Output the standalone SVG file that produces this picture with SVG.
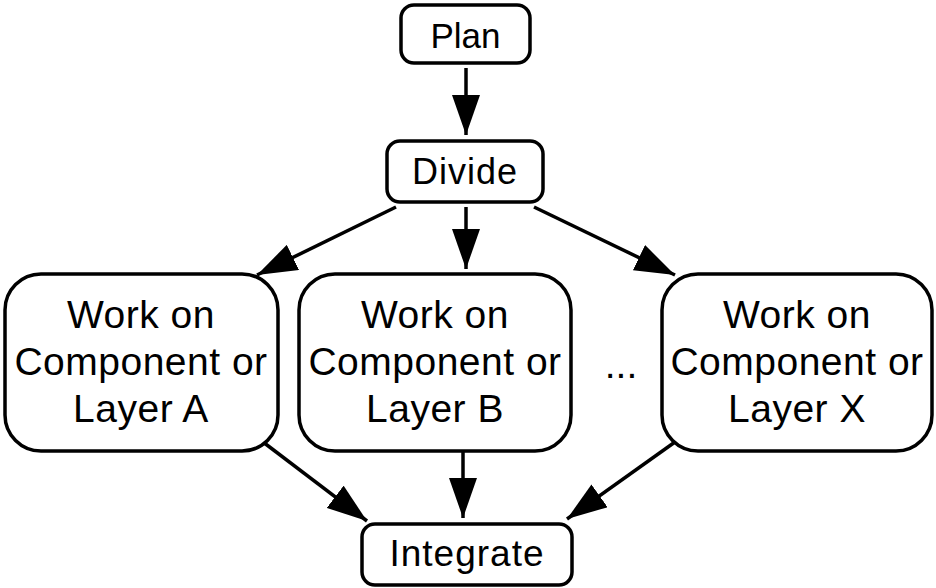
<svg xmlns="http://www.w3.org/2000/svg" width="936" height="588" viewBox="0 0 936 588">
<style>
.box{fill:#fff;stroke:#000;stroke-width:3.5}
.t{font-family:"Liberation Sans",Arial,sans-serif;fill:#000;text-anchor:middle}
.big{font-size:39px;letter-spacing:0.5px}
.edge{stroke:#000;stroke-width:3.5;fill:none;marker-end:url(#ah)}
</style>
<defs>
<marker id="ah" markerUnits="userSpaceOnUse" markerWidth="40" markerHeight="28" refX="40" refY="14" orient="auto">
<path d="M0,0 L40,14 L0,28 z" fill="#000"/>
</marker>
</defs>
<rect width="936" height="588" fill="#fff"/>
<g id="connectors">
<line class="edge" x1="466" y1="68" x2="466" y2="135"/>
<line class="edge" x1="396" y1="207" x2="257" y2="275"/>
<line class="edge" x1="466" y1="207" x2="466" y2="269"/>
<line class="edge" x1="534" y1="207" x2="675" y2="275"/>
<line class="edge" x1="263" y1="442" x2="367" y2="521"/>
<line class="edge" x1="463" y1="452" x2="463" y2="518"/>
<line class="edge" x1="675" y1="442" x2="567" y2="519"/>
</g>
<g id="plan">
<rect class="box" x="401" y="5" width="129" height="58" rx="13"/>
<text class="t" x="465.5" y="48" font-size="35">Plan</text>
</g>
<g id="divide">
<rect class="box" x="387" y="141" width="156" height="61" rx="13"/>
<text class="t" x="465" y="184" font-size="36" letter-spacing="1">Divide</text>
</g>
<g id="workA">
<rect class="box" x="5" y="274" width="273" height="177" rx="36"/>
<text class="t big" x="141" y="328">Work on</text>
<text class="t big" x="141" y="375">Component or</text>
<text class="t big" x="141" y="422">Layer A</text>
</g>
<g id="workB">
<rect class="box" x="299" y="274" width="272" height="177" rx="36"/>
<text class="t big" x="435" y="328">Work on</text>
<text class="t big" x="435" y="375">Component or</text>
<text class="t big" x="435" y="422">Layer B</text>
</g>
<g id="ellipsis">
<text class="t" x="621" y="378" font-size="39">...</text>
</g>
<g id="workX">
<rect class="box" x="662" y="274" width="270" height="177" rx="36"/>
<text class="t big" x="797" y="328">Work on</text>
<text class="t big" x="797" y="375">Component or</text>
<text class="t big" x="797" y="422">Layer X</text>
</g>
<g id="integrate">
<rect class="box" x="362" y="524" width="210" height="61" rx="13"/>
<text class="t" x="467" y="566" font-size="37" letter-spacing="1">Integrate</text>
</g>
</svg>
